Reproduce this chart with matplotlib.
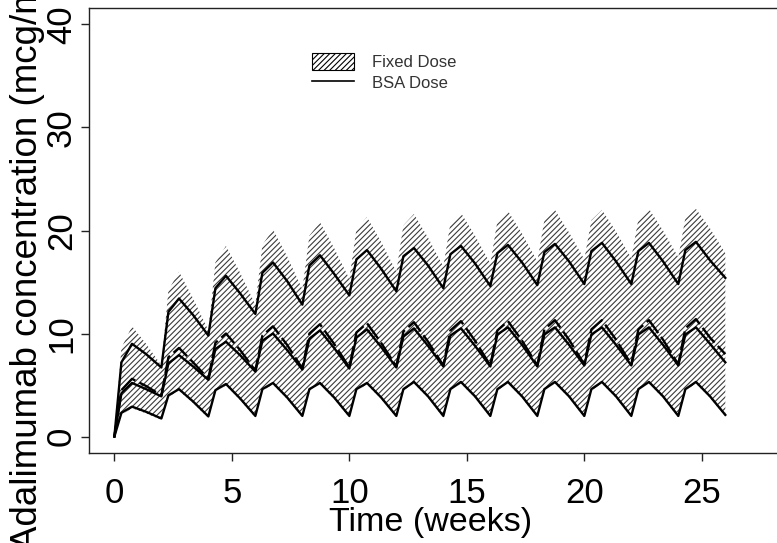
import matplotlib
matplotlib.use("Agg")
import matplotlib.pyplot as plt
from matplotlib.patches import Patch
from matplotlib.lines import Line2D

plt.rcParams['font.family'] = ['Liberation Sans', 'DejaVu Sans']
plt.rcParams['hatch.linewidth'] = 0.8

# time grid (weeks), doses every 2 weeks
weeks = [0, 0.3, 0.75, 1.35, 2, 2.3, 2.75, 3.35, 4, 4.3, 4.75, 5.35,
         6, 6.3, 6.75, 7.35, 8, 8.3, 8.75, 9.35, 10, 10.3, 10.75, 11.35,
         12, 12.3, 12.75, 13.35, 14, 14.3, 14.75, 15.35, 16, 16.3, 16.75, 17.35,
         18, 18.3, 18.75, 19.35, 20, 20.3, 20.75, 21.35, 22, 22.3, 22.75, 23.35,
         24, 24.3, 24.75, 25.35, 26]

# Fixed dose band (hatched)
fixed_high = [0, 8.6, 10.7, 9.0, 6.9, 14.2, 16.0, 13.4, 10.3, 16.9, 18.5, 15.9,
              12.8, 18.6, 20.1, 17.5, 14.3, 19.5, 20.8, 18.3, 15.3, 20.1, 21.3, 18.9,
              16.0, 20.5, 21.6, 19.3, 16.5, 20.7, 21.7, 19.5, 16.8, 20.9, 21.9, 19.7,
              17.0, 21.0, 22.0, 19.8, 17.2, 21.0, 22.0, 19.9, 17.3, 21.1, 22.1, 20.0,
              17.4, 21.2, 22.1, 20.2, 17.8]
fixed_low = [0, 2.1, 2.75, 2.25, 1.6, 3.85, 4.45, 3.25, 1.8, 4.35, 4.95, 3.55,
             1.85, 4.45, 5.05, 3.65, 1.85, 4.45, 5.05, 3.65, 1.85, 4.45, 5.05, 3.65,
             1.85, 4.45, 5.15, 3.75, 1.85, 4.45, 5.15, 3.75, 1.85, 4.45, 5.15, 3.75,
             1.85, 4.45, 5.15, 3.75, 1.85, 4.45, 5.15, 3.75, 1.85, 4.45, 5.15, 3.75,
             1.85, 4.45, 5.15, 3.75, 1.95]

# BSA dose lines
bsa_high = [0, 7.2, 9.0, 8.0, 6.7, 12.1, 13.4, 11.8, 9.8, 14.4, 15.6, 13.9,
            11.9, 15.9, 16.9, 15.1, 12.8, 16.6, 17.6, 15.8, 13.7, 17.2, 18.1, 16.3,
            14.1, 17.5, 18.3, 16.6, 14.4, 17.7, 18.5, 16.8, 14.6, 17.8, 18.6, 16.9,
            14.7, 17.9, 18.7, 17.0, 14.8, 18.0, 18.8, 17.0, 14.8, 18.0, 18.8, 17.0,
            14.8, 18.1, 18.9, 17.1, 15.4]
bsa_mid_a = [0, 4.5, 5.6, 4.9, 4.0, 7.7, 8.6, 7.2, 5.6, 9.1, 10.0, 8.4,
             6.4, 9.8, 10.7, 8.9, 6.6, 10.0, 10.9, 9.0, 6.7, 10.1, 11.0, 9.1,
             6.8, 10.2, 11.1, 9.2, 6.9, 10.3, 11.2, 9.3, 6.9, 10.3, 11.2, 9.3,
             6.9, 10.4, 11.3, 9.4, 7.0, 10.4, 11.3, 9.4, 7.0, 10.4, 11.3, 9.4,
             7.0, 10.5, 11.4, 9.6, 8.0]
bsa_mid_b = [0, 4.2, 5.2, 4.6, 3.9, 7.1, 7.9, 6.8, 5.5, 8.5, 9.2, 7.9,
             6.3, 9.3, 10.0, 8.4, 6.5, 9.5, 10.3, 8.6, 6.6, 9.6, 10.4, 8.7,
             6.7, 9.7, 10.5, 8.8, 6.8, 9.8, 10.5, 8.8, 6.8, 9.9, 10.6, 8.9,
             6.8, 9.9, 10.6, 8.9, 6.9, 9.9, 10.6, 8.9, 6.9, 9.9, 10.6, 8.9,
             6.9, 9.9, 10.6, 9.0, 7.2]
bsa_low = [0, 2.3, 2.9, 2.4, 1.75, 4.0, 4.6, 3.4, 1.95, 4.5, 5.1, 3.7,
           2.0, 4.6, 5.2, 3.8, 2.0, 4.6, 5.2, 3.8, 2.0, 4.6, 5.2, 3.8,
           2.0, 4.6, 5.3, 3.9, 2.0, 4.6, 5.3, 3.9, 2.0, 4.6, 5.3, 3.9,
           2.0, 4.6, 5.3, 3.9, 2.0, 4.6, 5.3, 3.9, 2.0, 4.6, 5.3, 3.9,
           2.0, 4.6, 5.3, 3.9, 2.1]

x_ticks = [0, 5, 10, 15, 20, 25]
y_ticks = [0, 10, 20, 30, 40]

W, H = 777, 543
fig = plt.figure(figsize=(W / 100, H / 100), dpi=100)
ax = fig.add_axes([89 / W, (H - 453) / H, 1 - 89 / W, (453 - 8) / H])

ax.fill_between(weeks, fixed_low, fixed_high, facecolor='white',
                edgecolor='#3a3a3a', hatch='//////', linewidth=0)
ax.plot(weeks, bsa_high, color='black', lw=1.7)
ax.plot(weeks, bsa_mid_a, color='black', lw=1.7, ls=(0, (8, 2)))
ax.plot(weeks, bsa_mid_b, color='black', lw=1.7)
ax.plot(weeks, bsa_low, color='black', lw=1.7)

ax.set_xlim(-1.08, 28.2)
ax.set_ylim(-1.6, 41.6)
ax.set_xticks(x_ticks)
ax.set_yticks(y_ticks)
ax.tick_params(axis='both', length=6, width=1, labelsize=25, color='#222222')
ax.tick_params(axis='x', pad=11)
ax.tick_params(axis='y', pad=2)
for lbl in ax.get_yticklabels():
    lbl.set_rotation(90)
    lbl.set_va('center')
ax.spines['right'].set_visible(False)
for s in ['left', 'bottom', 'top']:
    ax.spines[s].set_linewidth(1.0)
    ax.spines[s].set_color('#222222')

fig.text(431 / W, 1 - 507 / H, 'Time (weeks)', fontsize=24.5,
         ha='center', va='top')
fig.text(45 / W, 1 - 550 / H, 'Adalimumab concentration (mcg/mL)',
         fontsize=26.5, rotation=90, ha='right', va='bottom')

handles = [Patch(facecolor='white', edgecolor='black', hatch='//////', lw=0.8),
           Line2D([], [], color='black', lw=1.2)]
ax.legend(handles, ['Fixed Dose', 'BSA Dose'], loc='upper left',
          bbox_to_anchor=(312 / W, 1 - 53 / H), bbox_transform=fig.transFigure,
          frameon=False, fontsize=12, labelcolor='#333333', handlelength=2.5,
          handleheight=1.15, handletextpad=1.1, labelspacing=0.25,
          borderpad=0, borderaxespad=0)

fig.savefig('out.png', dpi=100)
